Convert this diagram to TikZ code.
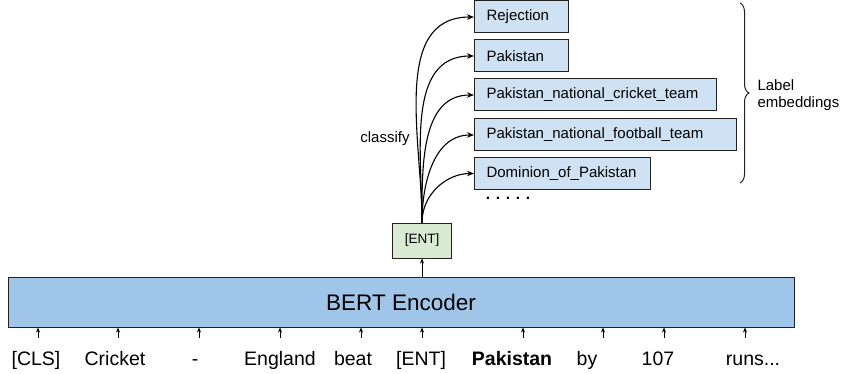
\documentclass[tikz,border=0pt]{standalone}
\usepackage{fontspec}
\setmainfont{Liberation Sans}
\usetikzlibrary{arrows.meta,decorations.pathreplacing}

\definecolor{encblue}{HTML}{9FC5E8}
\definecolor{labblue}{HTML}{CFE2F3}
\definecolor{entgreen}{HTML}{D9EAD3}
\definecolor{edge}{HTML}{222222}

\tikzset{
  labbox/.style={draw=edge, fill=labblue, line width=1pt, minimum height=32pt,
    inner xsep=12pt, inner ysep=0pt, align=left, anchor=west,
    font=\fontsize{15}{18}\selectfont},
  tokarrow/.style={-{Stealth[length=5pt,width=4pt]}, line width=0.9pt},
  clsarrow/.style={-{Stealth[length=7pt,width=5.5pt]}, line width=1.1pt},
}

\begin{document}
\begin{tikzpicture}[x=1pt,y=-1pt]
	\useasboundingbox (0,0) rectangle (842,374);
	% encoder block
	\node[draw=edge, fill=encblue, line width=1pt, minimum width=786pt, minimum height=50pt,
		font=\fontsize{22.5}{27}\selectfont] (bert) at (401,302) {BERT Encoder};
	% input tokens with their arrows
	\foreach \i/\ax/\tx/\tok in {%
		1/38/36/{[CLS]}, 2/118/115/{Cricket}, 3/199/195/{-}, 4/280/280/{England},
		5/361/353/{beat}, 6/422/421/{[ENT]}, 7/523/512/{\textbf{Pakistan}},
		8/603/587/{by}, 9/664/658/{107}, 10/745/753/{runs...}}{
		\node[anchor=base, font=\fontsize{19.5}{23}\selectfont] (tok\i) at (\tx,365) {\tok};
		\coordinate (in\i) at (\ax,338);
		\draw[tokarrow] (in\i) -- (in\i |- bert.south);
	}
	% entity vector
	\node[draw=edge, fill=entgreen, line width=1pt, minimum width=59pt, minimum height=35pt,
		font=\fontsize{13.5}{16}\selectfont] (ent) at (422,240.5) {[ENT]};
	\draw[tokarrow] (ent.south |- bert.north) -- (ent.south);
	% candidate labels
	\node[labbox, text width=70pt] (rej) at (474,17) {Rejection};
	\node[labbox, text width=70pt] (pak) at (474,56) {Pakistan};
	\node[labbox, text width=218pt] (pnct) at (474,95) {Pakistan\_national\_cricket\_team};
	\node[labbox, text width=238pt] (pnft) at (474,135) {Pakistan\_national\_football\_team};
	\node[labbox, text width=152pt] (dom) at (474,173.5) {Dominion\_of\_Pakistan};
	\node[anchor=base, font=\fontsize{15.5}{18}\selectfont\bfseries] (more) at (508,199) {. . . . .};
	\foreach \lab in {rej,pak,pnct,pnft,dom}
		\draw[clsarrow] (ent.north) to[out=90,in=180] (\lab.west);
	\node[font=\fontsize{15}{18}\selectfont] (cls) at (385,139) {classify};
	% brace over the label boxes
	\draw[edge, line width=1pt, decorate, decoration={brace, amplitude=9pt}] (740,3) -- (740,183);
	\node[anchor=west, align=left, font=\fontsize{15}{16.5}\selectfont] (emb) at (754,95) {Label\\embeddings};
\end{tikzpicture}
\end{document}
